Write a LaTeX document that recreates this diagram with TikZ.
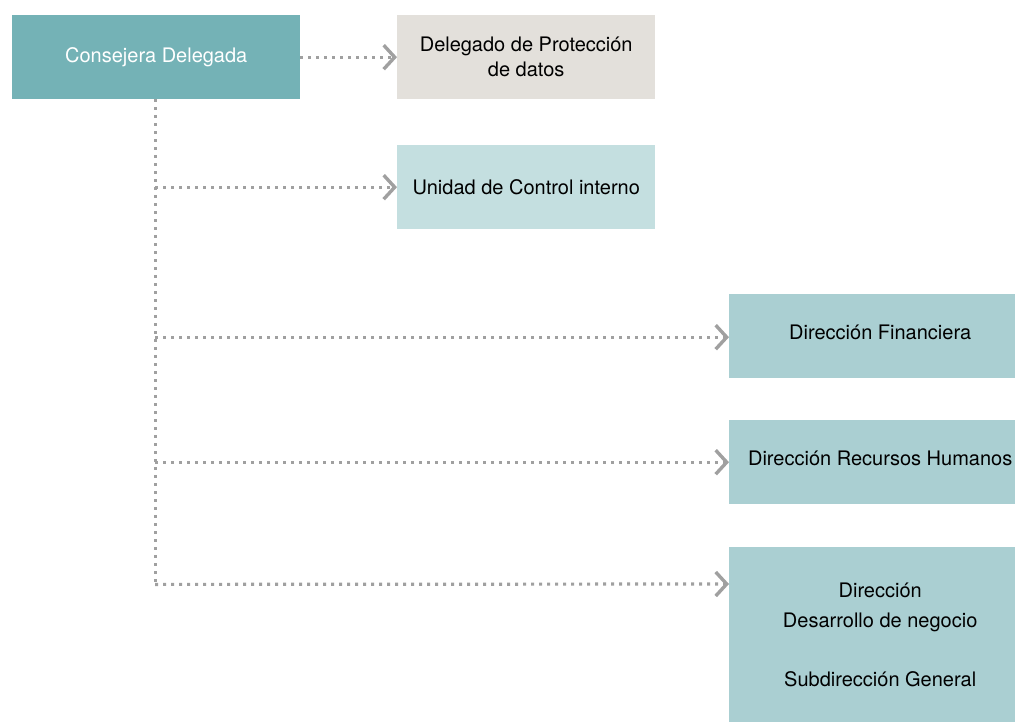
\documentclass[tikz,border=0pt]{standalone}
\usepackage{fontspec}
\setmainfont{TeX Gyre Heros}
\usetikzlibrary{arrows.meta,calc}
\definecolor{headteal}{HTML}{74B2B6}
\definecolor{beigebox}{HTML}{E3E0DB}
\definecolor{palebox}{HTML}{C4DFE0}
\definecolor{dirbox}{HTML}{AACFD2}
\definecolor{linegray}{HTML}{A0A0A0}
\begin{document}
\begin{tikzpicture}[x=1pt,y=-1pt,
  box/.style={inner sep=0pt, anchor=north west, align=center,
    font=\fontsize{20}{25}\selectfont, text=black},
  raised/.style={text height=15pt, text depth=8pt},
  conn/.style={draw=linegray, line width=3.2pt, dash pattern=on 3pt off 5pt},
  arr/.style={conn, -{Straight Barb[length=11pt,width=24pt,line width=3.4pt]}}]
\useasboundingbox (0,0) rectangle (1015,722);
\node[box, fill=headteal, text=white, minimum width=288pt, minimum height=84pt] (cd) at (12,15) {Consejera Delegada};
\node[box, fill=beigebox, minimum width=258pt, minimum height=84pt] (dpd) at (397,15) {Delegado de Protección\\de datos};
\node[box, fill=palebox, minimum width=258pt, minimum height=84pt] (uci) at (397,145) {Unidad de Control interno};
\node[box, raised, fill=dirbox, minimum width=302pt, minimum height=84pt] (dfin) at (729,294) {Dirección Financiera};
\node[box, raised, fill=dirbox, minimum width=302pt, minimum height=84pt] (drh) at (729,420) {Dirección Recursos Humanos};
\node[box, fill=dirbox, minimum width=302pt, minimum height=175pt, font=\fontsize{20}{29.5}\selectfont] (ddn) at (729,547) {Dirección\\Desarrollo de negocio\\[29.5pt]Subdirección General};
\coordinate (corner) at ($(cd.south)+(-1,485)$);
\coordinate (ddnin) at ($(ddn.north west)+(0,37)$);
\draw[arr] (cd.east) -- (dpd.west);
\draw[conn] (cd.south) ++(-1,0) -- (corner);
\draw[arr] (cd.south |- uci.west) ++(-1,0) -- (uci.west);
\draw[arr] (cd.south |- dfin.west) ++(-1,1) -- ($(dfin.west)+(0,1)$);
\draw[arr] (cd.south |- drh.west) ++(-1,0) -- (drh.west);
\draw[arr] (corner) -- (ddnin);
\end{tikzpicture}
\end{document}
